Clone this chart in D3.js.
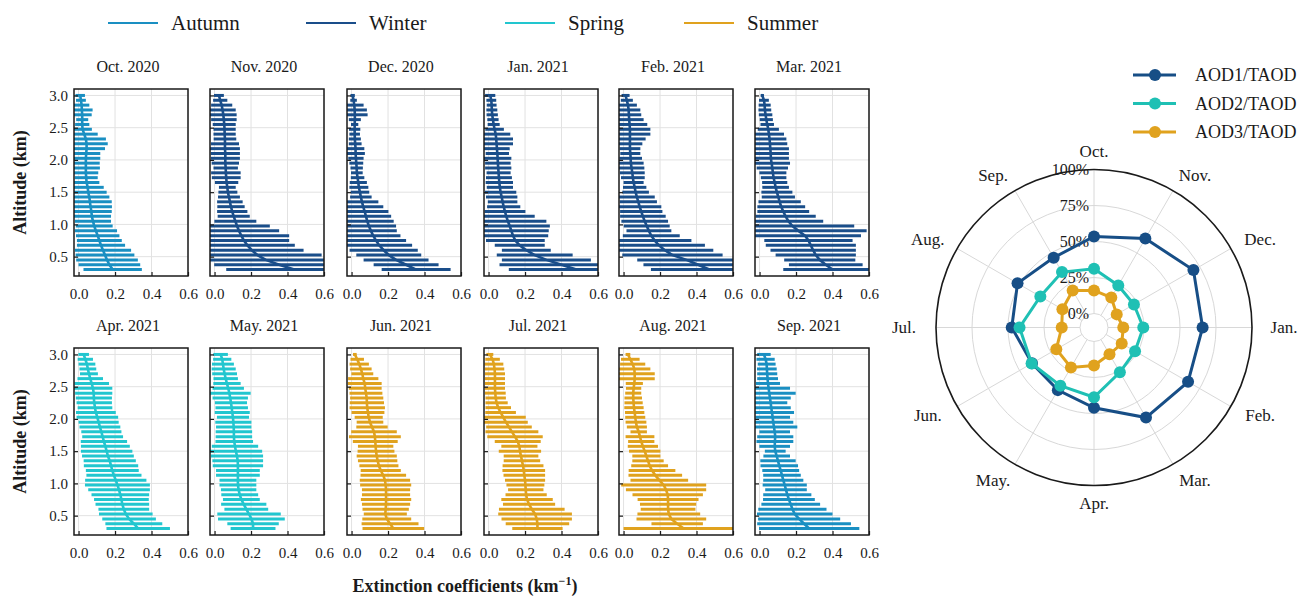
<!DOCTYPE html>
<html>
<head>
<meta charset="utf-8">
<script src="https://cdn.jsdelivr.net/npm/d3@7"></script>
<style>
body { margin: 0; background: #fff; }
text { font-family: "Liberation Serif", "Times New Roman", serif; fill: #1a1a1a; }
.grid { stroke: #e2e2e2; stroke-width: 1; }
.frame { fill: none; stroke: #1a1a1a; stroke-width: 1.5; }
.axis path { display: none; }
.axis line { stroke: #1a1a1a; stroke-width: 1.2; }
.axis text { font-size: 15px; }
</style>
</head>
<body>
<script>

// ---- data ----
var SEASONS = ["Autumn", "Winter", "Spring", "Summer"];
var SEASON_COLORS = ["#1a8fc2", "#1a4e8a", "#22c6cf", "#e0a21e"];

var MONTHS = ["Oct. 2020", "Nov. 2020", "Dec. 2020", "Jan. 2021", "Feb. 2021", "Mar. 2021",
              "Apr. 2021", "May. 2021", "Jun. 2021", "Jul. 2021", "Aug. 2021", "Sep. 2021"];
var MONTH_SEASON = ["Autumn", "Winter", "Winter", "Winter", "Winter", "Winter",
                    "Spring", "Spring", "Summer", "Summer", "Summer", "Autumn"];

// altitude levels (km), top to bottom
var ALTITUDES = [3.0, 2.925, 2.85, 2.775, 2.7, 2.625, 2.55, 2.475, 2.4, 2.325, 2.25, 2.175, 2.1,
                 2.025, 1.95, 1.875, 1.8, 1.725, 1.65, 1.575, 1.5, 1.425, 1.35, 1.275, 1.2, 1.125,
                 1.05, 0.975, 0.9, 0.825, 0.75, 0.675, 0.6, 0.525, 0.45, 0.375, 0.3];

// mean extinction coefficient (km-1) and standard deviation, per month
var extOct = [.009,.013,.017,.018,.02,.02,.02,.022,.031,.04,.044,.044,.042,.04,.04,.04,.04,.042,.044,.05,.053,.059,.062,.066,.07,.073,.079,.086,.095,.105,.114,.123,.134,.145,.156,.169,.187];
var sdOct  = [.026,.027,.042,.059,.052,.033,.039,.051,.074,.11,.116,.101,.077,.079,.076,.077,.068,.063,.07,.088,.101,.11,.12,.117,.112,.105,.099,.101,.116,.119,.123,.132,.154,.161,.169,.169,.16];
var extNov = [.024,.031,.039,.044,.048,.051,.053,.055,.055,.057,.057,.057,.059,.059,.059,.061,.062,.064,.066,.07,.073,.079,.084,.09,.097,.105,.114,.123,.134,.147,.161,.18,.204,.235,.281,.354,.437];
var sdNov  = [.027,.039,.058,.072,.073,.07,.063,.061,.061,.062,.077,.082,.08,.08,.075,.067,.081,.079,.064,.046,.052,.06,.07,.075,.083,.088,.115,.18,.22,.262,.248,.26,.284,.352,.339,.356,.373];
var extDec = [.006,.011,.015,.017,.018,.018,.017,.017,.017,.018,.02,.022,.022,.024,.026,.028,.029,.033,.037,.04,.046,.051,.057,.064,.072,.079,.086,.095,.106,.119,.134,.152,.176,.204,.244,.299,.354];
var sdDec  = [.012,.018,.051,.067,.07,.033,.02,.031,.029,.033,.035,.048,.051,.042,.038,.034,.032,.037,.047,.052,.051,.059,.09,.11,.13,.138,.145,.149,.142,.149,.165,.18,.187,.178,.178,.178,.189];
var extJan = [.009,.015,.017,.018,.02,.024,.028,.033,.039,.042,.044,.046,.048,.05,.051,.053,.055,.057,.059,.062,.066,.072,.077,.083,.09,.097,.106,.116,.125,.134,.147,.171,.207,.253,.317,.4,.481];
var sdJan  = [.028,.027,.027,.03,.031,.031,.033,.051,.08,.092,.09,.07,.064,.075,.07,.072,.066,.071,.075,.072,.086,.086,.081,.091,.112,.156,.211,.22,.205,.193,.161,.137,.134,.208,.244,.34,.37];
var extFeb = [.011,.018,.024,.028,.029,.031,.033,.035,.035,.035,.035,.035,.037,.039,.04,.044,.048,.051,.055,.061,.066,.073,.081,.088,.097,.106,.116,.127,.139,.152,.171,.194,.226,.268,.345,.409,.47];
var sdFeb  = [.022,.033,.049,.064,.068,.079,.097,.112,.112,.086,.068,.057,.055,.062,.07,.07,.068,.065,.055,.064,.073,.098,.102,.119,.116,.125,.128,.126,.123,.156,.201,.252,.266,.275,.27,.3,.32];
var extMar = [.015,.024,.028,.029,.033,.037,.042,.048,.051,.055,.057,.059,.061,.062,.066,.07,.073,.077,.083,.088,.095,.103,.11,.119,.13,.143,.158,.18,.213,.25,.268,.281,.294,.308,.33,.363,.4];
var sdMar  = [.009,.027,.033,.035,.037,.036,.037,.058,.083,.092,.095,.102,.1,.099,.101,.086,.074,.07,.069,.073,.085,.091,.116,.131,.142,.165,.191,.339,.374,.306,.242,.247,.234,.22,.195,.202,.27];
var extApr = [.028,.037,.046,.051,.057,.064,.072,.079,.083,.084,.086,.09,.095,.103,.11,.117,.125,.132,.139,.147,.154,.161,.171,.178,.185,.194,.204,.213,.222,.229,.235,.24,.248,.259,.277,.303,.327];
var sdApr  = [.029,.042,.046,.046,.049,.07,.095,.106,.102,.099,.097,.095,.109,.114,.11,.112,.11,.112,.127,.134,.141,.142,.143,.149,.145,.151,.168,.178,.169,.158,.15,.147,.139,.147,.147,.156,.174];
var extMay = [.033,.042,.046,.05,.055,.061,.068,.075,.081,.086,.09,.094,.097,.101,.103,.105,.106,.106,.108,.112,.117,.123,.127,.128,.128,.128,.128,.128,.132,.138,.147,.16,.174,.189,.202,.211,.211];
var sdMay  = [.04,.05,.06,.066,.068,.067,.075,.086,.117,.097,.088,.089,.096,.088,.099,.097,.1,.1,.103,.127,.144,.143,.139,.138,.12,.12,.101,.101,.097,.101,.101,.124,.12,.174,.183,.141,.123];
var extJun = [.018,.031,.042,.051,.059,.064,.072,.075,.079,.083,.084,.086,.09,.094,.101,.112,.123,.128,.13,.132,.134,.138,.143,.15,.16,.174,.183,.187,.189,.189,.189,.189,.187,.185,.193,.211,.229];
var sdJun  = [.01,.037,.053,.059,.06,.083,.093,.09,.09,.091,.094,.097,.09,.077,.073,.086,.125,.142,.123,.097,.101,.11,.108,.107,.11,.125,.138,.14,.132,.132,.138,.132,.127,.118,.134,.156,.169];
var extJul = [.007,.022,.029,.033,.035,.035,.035,.035,.037,.039,.044,.053,.066,.081,.095,.112,.128,.145,.16,.169,.172,.178,.183,.189,.193,.196,.2,.202,.204,.206,.211,.222,.237,.255,.264,.268,.268];
var sdJul  = [.019,.04,.052,.053,.055,.055,.055,.055,.057,.056,.061,.07,.084,.123,.12,.125,.145,.152,.126,.099,.116,.095,.1,.112,.117,.114,.11,.104,.097,.113,.141,.143,.18,.202,.193,.174,.138];
var extAug = [.024,.037,.05,.059,.061,.061,.059,.055,.053,.053,.055,.057,.061,.064,.068,.073,.083,.09,.097,.106,.116,.125,.134,.143,.156,.174,.196,.22,.233,.242,.244,.244,.244,.248,.262,.294,.33];
var sdAug  = [.013,.051,.069,.088,.11,.11,.047,.042,.044,.048,.05,.053,.053,.055,.057,.055,.045,.079,.072,.083,.086,.077,.086,.101,.128,.147,.158,.233,.22,.193,.167,.154,.15,.172,.191,.141,.33];
var extSep = [.024,.033,.039,.04,.042,.044,.046,.05,.053,.057,.061,.064,.068,.072,.075,.079,.083,.086,.084,.083,.086,.094,.101,.108,.116,.123,.13,.138,.145,.152,.161,.171,.18,.193,.217,.244,.272];
var sdSep  = [.037,.05,.049,.054,.055,.057,.066,.117,.145,.114,.091,.107,.121,.095,.11,.128,.084,.099,.101,.084,.057,.073,.097,.103,.101,.103,.11,.121,.114,.132,.142,.161,.187,.207,.225,.257,.275];

var X_TICKS = [0.0, 0.2, 0.4, 0.6];
var Y_TICKS = [0.5, 1.0, 1.5, 2.0, 2.5, 3.0];

// radar: AOD fraction of TAOD (%), Oct..Sep
var RADAR_MONTHS = ["Oct.", "Nov.", "Dec.", "Jan.", "Feb.", "Mar.", "Apr.", "May.", "Jun.", "Jul.", "Aug.", "Sep."];
var AOD_NAMES = ["AOD1/TAOD", "AOD2/TAOD", "AOD3/TAOD"];
var AOD_COLORS = ["#174e86", "#1fc0b4", "#e0a21e"];
var aod1 = [53.5, 61.6, 70, 65.7, 65.7, 62.5, 46, 40.5, 40, 47.4, 51.6, 46.3];
var aod2 = [31, 24, 22.3, 24.5, 23.2, 26.2, 38.7, 37, 40.3, 42, 33.3, 34.7];
var aod3 = [16, 14.3, 8.5, 10.6, 12.5, 11.8, 16.7, 22.3, 20.5, 12.7, 15.6, 19.9];
var RADIAL_TICKS = [0, 25, 50, 75, 100];

// ---- layout ----
var width = 1301,
    height = 596,
    panelW = 114,
    panelH = 187,
    colLeft = [74, 210, 347, 484, 619, 755],
    rowTop = [89, 348];

var svg = d3.select("body").append("svg")
    .attr("width", width)
    .attr("height", height);

var seasonColor = d3.scaleOrdinal().domain(SEASONS).range(SEASON_COLORS);

var means = [extOct, extNov, extDec, extJan, extFeb, extMar, extApr, extMay, extJun, extJul, extAug, extSep];
var sds = [sdOct, sdNov, sdDec, sdJan, sdFeb, sdMar, sdApr, sdMay, sdJun, sdJul, sdAug, sdSep];

var profiles = MONTHS.map(function(m, i) {
    return {
        title: m,
        color: seasonColor(MONTH_SEASON[i]),
        levels: ALTITUDES.map(function(a, j) { return { alt: a, mean: means[i][j], sd: sds[i][j] }; })
    };
});

// ---- top legend ----
var legendX = [108, 306, 505, 684];
var topLegend = svg.append("g").selectAll("g")
    .data(SEASONS)
    .enter().append("g")
    .attr("transform", function(d, i) { return "translate(" + legendX[i] + ",23)"; });
topLegend.append("line")
    .attr("x1", 0).attr("x2", 50)
    .attr("stroke", function(d) { return seasonColor(d); })
    .attr("stroke-width", 2.2);
topLegend.append("text")
    .attr("x", 63).attr("dy", "0.35em")
    .style("font-size", "21px")
    .text(function(d) { return d; });

// ---- profile panels ----
profiles.forEach(function(p, i) {
    var col = i % 6, row = Math.floor(i / 6);
    var left = colLeft[col], top = rowTop[row];

    var x = d3.scaleLinear().domain([-0.025, 0.6]).range([left, left + panelW]);
    var y = d3.scaleLinear().domain([0.2, 3.1]).range([top + panelH, top]);
    var g = svg.append("g");

    g.selectAll(".gx").data(X_TICKS).enter().append("line")
        .attr("class", "grid")
        .attr("x1", function(d) { return x(d); }).attr("x2", function(d) { return x(d); })
        .attr("y1", top).attr("y2", top + panelH);
    g.selectAll(".gy").data(Y_TICKS).enter().append("line")
        .attr("class", "grid")
        .attr("x1", left).attr("x2", left + panelW)
        .attr("y1", function(d) { return y(d); }).attr("y2", function(d) { return y(d); });

    // error bars, clipped to the frame
    g.selectAll(".bar").data(p.levels).enter().append("line")
        .attr("x1", function(d) { return x(Math.max(-0.025, d.mean - d.sd)); })
        .attr("x2", function(d) { return x(Math.min(0.6, d.mean + d.sd)); })
        .attr("y1", function(d) { return y(d.alt); })
        .attr("y2", function(d) { return y(d.alt); })
        .attr("stroke", p.color)
        .attr("stroke-width", 3);

    var line = d3.line()
        .x(function(d) { return x(d.mean); })
        .y(function(d) { return y(d.alt); });
    g.append("path")
        .datum(p.levels)
        .attr("d", line)
        .attr("fill", "none")
        .attr("stroke", p.color)
        .attr("stroke-width", 2.6)
        .attr("stroke-linejoin", "round");

    var xAxis = d3.axisBottom(x).tickValues(X_TICKS).tickFormat(d3.format(".1f"))
        .tickSizeInner(-4).tickSizeOuter(0).tickPadding(12);
    g.append("g").attr("class", "axis")
        .attr("transform", "translate(0," + (top + panelH) + ")")
        .call(xAxis);

    var yAxis = d3.axisLeft(y).tickValues(Y_TICKS)
        .tickFormat(col === 0 ? d3.format(".1f") : "")
        .tickSizeInner(-4).tickSizeOuter(0).tickPadding(6);
    g.append("g").attr("class", "axis")
        .attr("transform", "translate(" + left + ",0)")
        .call(yAxis);

    g.append("rect")
        .attr("class", "frame")
        .attr("x", left).attr("y", top)
        .attr("width", panelW).attr("height", panelH);

    g.append("text")
        .attr("x", left + panelW / 2 - 3)
        .attr("y", top - 17)
        .attr("text-anchor", "middle")
        .style("font-size", "16px")
        .text(p.title);
});

// axis titles
rowTop.forEach(function(t) {
    svg.append("text")
        .attr("transform", "translate(20," + (t + panelH / 2) + ") rotate(-90)")
        .attr("dy", "0.35em")
        .attr("text-anchor", "middle")
        .style("font-size", "18px")
        .style("font-weight", "bold")
        .text("Altitude (km)");
});

var xTitle = svg.append("text")
    .attr("x", 465).attr("y", 592)
    .attr("text-anchor", "middle")
    .style("font-size", "18px")
    .style("font-weight", "bold");
xTitle.append("tspan").text("Extinction coefficients (km");
xTitle.append("tspan").attr("dy", -7).style("font-size", "12px").text("\u22121");
xTitle.append("tspan").attr("dy", 7).text(")");

// ---- radar ----
var cx = 1094, cy = 327.5, R = 158;
var r = d3.scaleLinear().domain([0, 100]).range([14, R]);
var angle = d3.scaleLinear().domain([0, RADAR_MONTHS.length]).range([0, 2 * Math.PI]);

var radar = svg.append("g").attr("transform", "translate(" + cx + "," + cy + ")");

radar.selectAll(".ring").data(RADIAL_TICKS.slice(0, -1)).enter().append("circle")
    .attr("r", function(d) { return r(d); })
    .attr("fill", "none")
    .attr("stroke", "#d8d8d8")
    .attr("stroke-width", 1);

radar.selectAll(".spoke").data(RADAR_MONTHS).enter().append("line")
    .attr("x1", function(d, i) { return r(0) * Math.sin(angle(i)); })
    .attr("y1", function(d, i) { return -r(0) * Math.cos(angle(i)); })
    .attr("x2", function(d, i) { return R * Math.sin(angle(i)); })
    .attr("y2", function(d, i) { return -R * Math.cos(angle(i)); })
    .attr("stroke", "#d8d8d8")
    .attr("stroke-width", 1);

radar.append("circle")
    .attr("r", R)
    .attr("fill", "none")
    .attr("stroke", "#1a1a1a")
    .attr("stroke-width", 1.6);

radar.selectAll(".rlabel").data(RADIAL_TICKS).enter().append("text")
    .attr("x", -5)
    .attr("y", function(d) { return -r(d); })
    .attr("dy", "0.35em")
    .attr("text-anchor", "end")
    .style("font-size", "16px")
    .text(function(d) { return d + "%"; });

radar.selectAll(".mlabel").data(RADAR_MONTHS).enter().append("text")
    .attr("x", function(d, i) {
        var s = Math.sin(angle(i));
        return 178 * s + 12 * (Math.abs(s) < 1e-6 ? 0 : Math.sign(s));
    })
    .attr("y", function(d, i) { return -176 * Math.cos(angle(i)); })
    .attr("dy", "0.35em")
    .attr("text-anchor", "middle")
    .style("font-size", "17px")
    .text(function(d) { return d; });

var series = [aod1, aod2, aod3];
var radial = d3.lineRadial()
    .angle(function(d, i) { return angle(i); })
    .radius(function(d) { return r(d); })
    .curve(d3.curveLinearClosed);

series.forEach(function(s, k) {
    radar.append("path")
        .attr("d", radial(s))
        .attr("fill", "none")
        .attr("stroke", AOD_COLORS[k])
        .attr("stroke-width", 3);
    radar.selectAll(".pt" + k).data(s).enter().append("circle")
        .attr("cx", function(d, i) { return r(d) * Math.sin(angle(i)); })
        .attr("cy", function(d, i) { return -r(d) * Math.cos(angle(i)); })
        .attr("r", 6)
        .attr("fill", AOD_COLORS[k]);
});

// radar legend
var rLegend = svg.append("g").selectAll("g")
    .data(AOD_NAMES)
    .enter().append("g")
    .attr("transform", function(d, i) { return "translate(1133," + (75 + i * 28.5) + ")"; });
rLegend.append("line")
    .attr("x1", 0).attr("x2", 43)
    .attr("stroke", function(d, i) { return AOD_COLORS[i]; })
    .attr("stroke-width", 3);
rLegend.append("circle")
    .attr("cx", 22).attr("r", 6)
    .attr("fill", function(d, i) { return AOD_COLORS[i]; });
rLegend.append("text")
    .attr("x", 62).attr("dy", "0.35em")
    .style("font-size", "18px")
    .text(function(d) { return d; });

</script>
</body>
</html>
